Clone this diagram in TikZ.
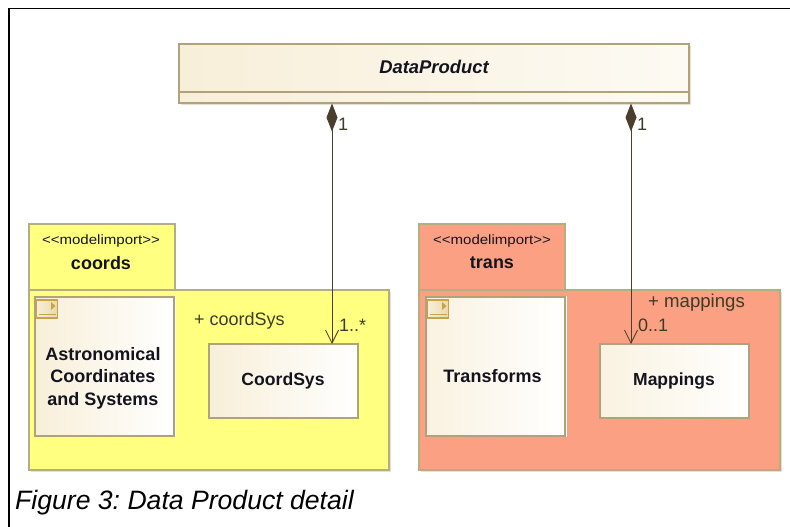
\documentclass[tikz,border=0pt]{standalone}
\usepackage{fontspec}
\setmainfont{Liberation Sans}
\usetikzlibrary{arrows.meta}
\definecolor{bord}{HTML}{B0A27A}
\definecolor{pkgbord}{HTML}{B5AE82}
\definecolor{yel}{HTML}{FFFF80}
\definecolor{sal}{HTML}{FCA083}
\definecolor{creamL}{HTML}{F8EFD9}
\definecolor{creamR}{HTML}{FFFFFF}
\definecolor{shadowc}{HTML}{E6E0CC}
\definecolor{ink}{HTML}{14141E}
\definecolor{conn}{HTML}{4A3F2C}
\definecolor{labelc}{HTML}{3C3C28}
\definecolor{gold}{HTML}{C9A34A}
\newcommand{\stereo}{\scalebox{1.115}[1]{{<}{<}modelimport{>}{>}}}
\frenchspacing
\tikzset{
  x=1pt,y=-1pt,
  pkg/.style={draw=pkgbord,line width=1.3pt,outer sep=0pt,anchor=north west,inner sep=0pt},
  tabtext/.style={align=center,text=ink,inner sep=0pt},
  classbox/.style={draw=bord,line width=1.3pt,outer sep=0pt,left color=creamL,right color=creamR,
    anchor=north west,inner sep=0pt,align=center,text=ink,font=\fontsize{18}{22.5}\selectfont\bfseries},
  assoc/.style={draw=conn,line width=1pt,
    {Diamond[length=28pt,width=11pt,fill=conn]}-{Straight Barb[length=13pt,width=13pt,line width=0.8pt]}},
  mult/.style={text=labelc,inner sep=0pt,font=\fontsize{18}{20}\selectfont},
  roleL/.style={text=labelc,inner sep=0pt,font=\fontsize{18}{20}\selectfont},
  icon/.style={draw=gold,line width=1.4pt,outer sep=0pt,left color=creamL,right color=creamL!70!gold,inner sep=0pt,anchor=north west,minimum width=21pt,minimum height=18pt}
}
\begin{document}
\begin{tikzpicture}
\useasboundingbox (0,0) rectangle (790,527);
\fill[white] (0,0) rectangle (790,527);
% page frame
\coordinate (frameB) at (9,527);
\coordinate (frameC) at (9,8.5);
\coordinate (frameR) at (790,8.5);
\draw[black,line width=1.1pt] (frameB) -- (frameC) -- (frameR);
% DataProduct
\fill[shadowc] (181,46) rectangle (691,105);
\node[classbox,minimum width=510pt,minimum height=59pt,left color=creamL,right color=white!70!creamL] (dp) at (179,44) {};
\node[text=ink,font=\fontsize{18.4}{20}\selectfont\bfseries\itshape] (dpname) at (434,67) {DataProduct};
\coordinate (divL) at (179,92);
\coordinate (divR) at (689,92);
\draw[draw=bord,line width=1.2pt] (divL) -- (divR);
% coords package
\fill[shadowc] (31,292) rectangle (391,472);
\node[pkg,fill=yel,minimum width=146pt,minimum height=66pt] (coordstab) at (29,224) {};
\node[pkg,fill=yel,minimum width=360pt,minimum height=180pt] (coordsbody) at (29,290) {};
\node[tabtext,font=\fontsize{13.5}{15}\selectfont] (coordsst) at (101,241.5) {\stereo};
\node[tabtext,font=\fontsize{18}{20}\selectfont\bfseries] (coordsname) at (101,263) {coords};
% trans package
\fill[shadowc] (421,292) rectangle (782,472);
\node[pkg,fill=sal,minimum width=146pt,minimum height=66pt] (transtab) at (419,224) {};
\node[pkg,fill=sal,minimum width=361pt,minimum height=180pt] (transbody) at (419,290) {};
\node[tabtext,font=\fontsize{13.5}{15}\selectfont] (transst) at (492,241.5) {\stereo};
\node[tabtext,font=\fontsize{18}{20}\selectfont\bfseries] (transname) at (492,263) {trans};
% inner boxes
\fill[white] (35,296) rectangle (175.5,437);
\node[classbox,minimum width=139pt,minimum height=139pt] (astro) at (35,297) {\mbox{}\\[14pt]\hspace*{-3pt}Astronomical\\\hspace*{-3pt}Coordinates\\\hspace*{-3pt}and Systems};
\node[classbox,minimum width=149pt,minimum height=74pt,font=\fontsize{17.6}{22}\selectfont\bfseries] (coordsys) at (209,344) {\hspace*{-1pt}CoordSys};
\fill[white] (426,296) rectangle (566.5,437);
\node[classbox,minimum width=139pt,minimum height=139pt,left color=creamL!80!white] (transforms) at (426,297) {\mbox{}\\[10pt]\hspace*{-6pt}Transforms};
\node[classbox,minimum width=149pt,minimum height=74pt,left color=creamL!80!white,font=\fontsize{17.5}{22}\selectfont\bfseries] (mappings) at (600,344) {\hspace*{-1pt}Mappings};
% icons
\node[icon] (icon1) at (36.5,300) {};
\node[icon] (icon2) at (427.5,300) {};
\fill[gold] (51,302) -- (55.5,306) -- (51,310) -- cycle;
\draw[gold,line width=0.8pt] (39,314.5) -- (56,314.5);
\fill[gold] (442,302) -- (446.5,306) -- (442,310) -- cycle;
\draw[gold,line width=0.8pt] (430,314.5) -- (447,314.5);
% connectors
\coordinate (a1) at (332,103.5);
\coordinate (b1) at (631,103.5);
\draw[assoc] (a1) -- (a1 |- coordsys.north);
\draw[assoc] (b1) -- (b1 |- mappings.north);
% labels
\node[mult,anchor=west] (m1) at (338,124) {1};
\node[mult,anchor=west] (m2) at (637,124) {1};
\node[mult,anchor=west] (m3) at (339,325) {1..*};
\node[mult,anchor=west] (m4) at (638,325) {0..1};
\node[roleL,anchor=west] (r1) at (194,320.5) {+ coordSys};
\node[roleL,anchor=west,font=\fontsize{18.6}{20}\selectfont] (r2) at (648,302.5) {+ mappings};
% caption
\node[anchor=west,inner sep=0pt,text=black,font=\fontsize{26.6}{30}\selectfont\itshape] (cap) at (15,503) {Figure 3: Data Product detail};
\end{tikzpicture}
\end{document}
